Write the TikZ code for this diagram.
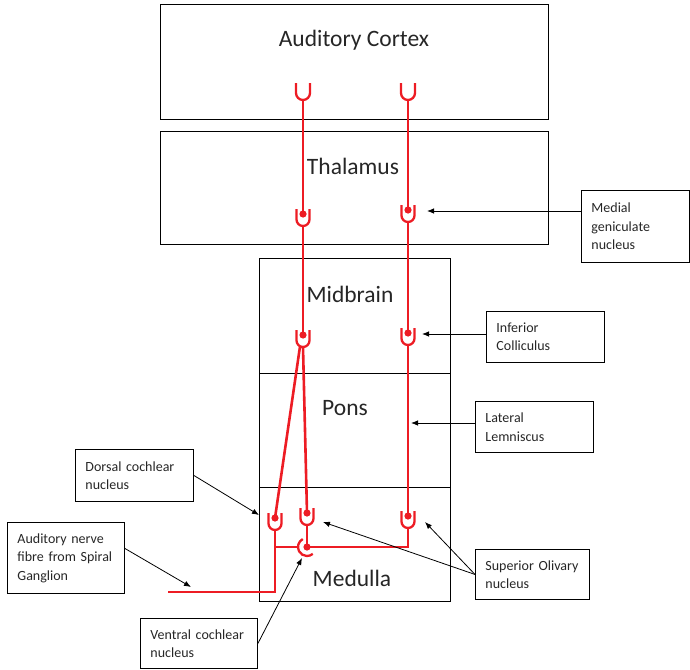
\documentclass[tikz,border=0pt]{standalone}
\usepackage{fontspec}
\setmainfont{Carlito}
\usetikzlibrary{arrows.meta,calc}
\definecolor{nred}{RGB}{237,28,36}
\begin{document}
\begin{tikzpicture}[x=1pt,y=-1pt,
  region/.style={draw=black, line width=0.9pt, inner sep=0pt},
  bigtext/.style={font=\fontsize{23.5}{28}\selectfont, text=black!85, inner sep=0pt},
  lbl/.style={draw=black, line width=0.9pt, font=\fontsize{14}{18.5}\selectfont, text=black!85,
              align=left, inner xsep=10pt, inner ysep=0pt, anchor=north west},
  redline/.style={draw=nred, line width=2.6pt},
  ann/.style={draw=black, line width=0.8pt, -{Latex[length=7pt,width=5.5pt]}},
  syn/.pic={
    \draw[nred, line width=2.3pt] (-6.5,-5) -- (-6.5,5.5) arc[start angle=180,end angle=360,radius=6.5pt] -- (6.5,-5);
    \fill[nred] (0,0) circle[radius=3.6pt];
    \coordinate (-dot) at (0,0);
    \coordinate (-bot) at (0,12);
    \coordinate (-botl) at (-3,11.5);
  },
  cup/.pic={
    \draw[nred, line width=2.3pt] (-7,-5) -- (-7,5) arc[start angle=180,end angle=360,radius=7pt] -- (7,-5);
    \coordinate (-bot) at (0,12);
  },
  vcn/.pic={
    \draw[nred, line width=2.3pt] (118:9pt) arc[start angle=118,end angle=310,radius=9pt];
    \fill[nred] (0,0) circle[radius=3.6pt];
    \coordinate (-dot) at (0,0);
    \coordinate (-left) at (-9,0);
  }]
\useasboundingbox (0,0) rectangle (690,669);

% regions
\node[region, minimum width=388pt, minimum height=115pt] (cortex) at (354,61.5) {};
\node[region, minimum width=388pt, minimum height=113pt] (thal) at (354,187.5) {};
\node[region, minimum width=191pt, minimum height=115pt] (mid) at (354.5,315.5) {};
\node[region, minimum width=191pt, minimum height=114pt] (pons) at (354.5,430) {};
\node[region, minimum width=191pt, minimum height=114pt] (med) at (354.5,544) {};

\node[bigtext] (tcortex) at (354,40) {Auditory Cortex};
\node[bigtext] (tthal) at (353,166) {Thalamus};
\node[bigtext] (tmid) at (350,294) {Midbrain};
\node[bigtext] (tpons) at (345,408) {Pons};
\node[bigtext] (tmed) at (352,578) {Medulla};

% synapses
\pic (cl) at (303,88) {cup};
\pic (cr) at (408,88) {cup};
\pic (tl) at (303,214) {syn};
\pic (tr) at (408,210) {syn};
\pic (ml) at (303,335) {syn};
\pic (mr) at (408,333) {syn};
\pic (dcn) at (275,518) {syn};
\pic (som) at (307,513) {syn};
\pic (sor) at (408,516) {syn};
\pic (vc) at (307,547) {vcn};

\coordinate (anf) at (168,592);
\coordinate (junc) at (275,547);

% red pathways
\draw[redline] (cl-bot) -- (tl-dot);
\draw[redline] (tl-bot) -- (ml-dot);
\draw[redline] (ml-bot) -- (som-dot);
\draw[redline] (ml-botl) -- (dcn-dot);
\draw[redline] (cr-bot) -- (tr-dot);
\draw[redline] (tr-bot) -- (mr-dot);
\draw[redline] (mr-bot) -- (sor-dot);
\draw[redline] (sor-bot) |- (vc-dot);
\draw[redline] (som-bot) -- (vc-dot);
\draw[redline] (dcn-bot) |- (anf);
\draw[redline] (junc) -- (vc-left);

% label boxes
\node[lbl, text width=88pt, minimum width=108pt, minimum height=72pt] (mgnb) at (581,190) {Medial\\geniculate\\nucleus};
\node[lbl, text width=98pt, minimum width=118pt, minimum height=51pt] (icb) at (486,311) {Inferior\\Colliculus};
\node[lbl, text width=98pt, minimum width=118pt, minimum height=51pt] (llb) at (475,401) {Lateral\\Lemniscus};
\node[lbl, text width=98pt, minimum width=118pt, minimum height=52pt] (dcnb) at (75,449) {Dorsal cochlear\\nucleus};
\node[lbl, text width=97pt, minimum width=117pt, minimum height=71pt] (anb) at (7,522) {Auditory nerve\\fibre from Spiral\\Ganglion};
\node[lbl, text width=97pt, minimum width=117pt, minimum height=50pt] (vcnb) at (140,618) {Ventral cochlear\\nucleus};
\node[lbl, text width=94pt, minimum width=114pt, minimum height=50pt] (sob) at (475,549) {Superior Olivary\\nucleus};

% annotation arrows
\coordinate (tmgn) at (427,211);
\coordinate (tic) at (422,334);
\coordinate (tll) at (411,423);
\coordinate (tdcn) at (259,515);
\coordinate (tan) at (191,587);
\coordinate (tvcn) at (302,558);
\coordinate (tso1) at (323,522);
\coordinate (tso2) at (425,522);

\draw[ann] (mgnb.west |- tmgn) -- (tmgn);
\draw[ann] (icb.west |- tic) -- (tic);
\draw[ann] (llb.west |- tll) -- (tll);
\draw[ann] (dcnb.east) -- (tdcn);
\draw[ann] ($(anb.east)+(0,-9.5)$) -- (tan);
\draw[ann] (vcnb.east) -- (tvcn);
\draw[ann] (sob.west) -- (tso1);
\draw[ann] (sob.west) -- (tso2);
\end{tikzpicture}
\end{document}
